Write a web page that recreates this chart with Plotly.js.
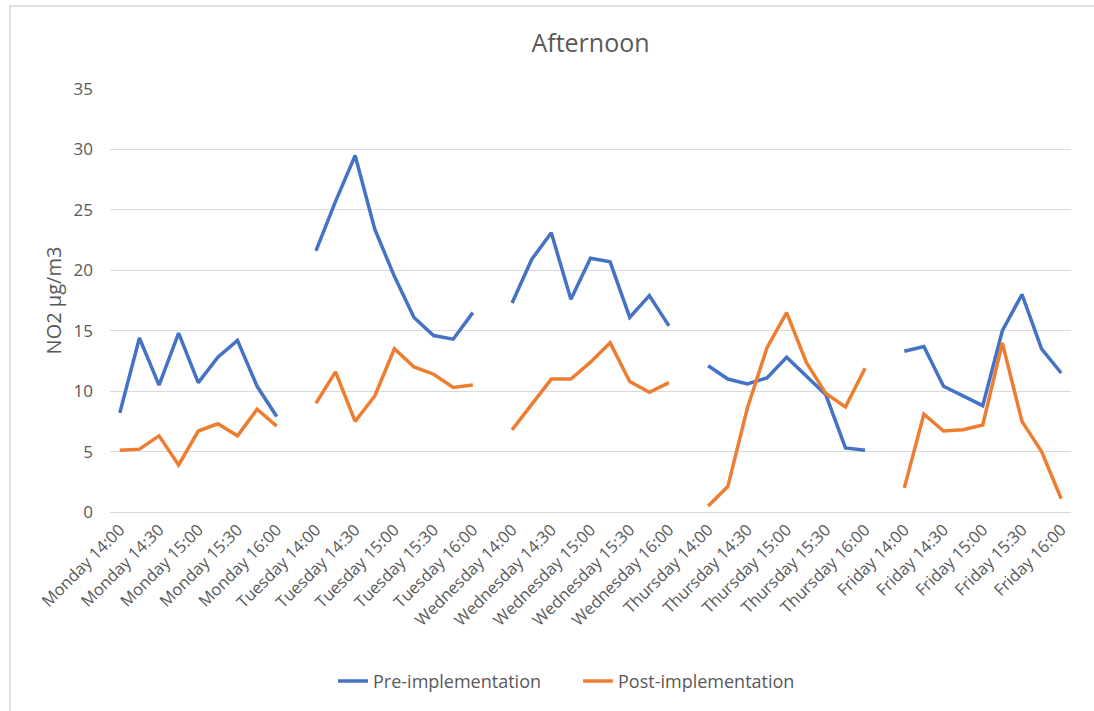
<!DOCTYPE html>
<html>
<head>
<meta charset="utf-8">
<script src="https://cdn.plot.ly/plotly-3.0.1.min.js"></script>
<style>
  html, body { margin: 0; padding: 0; background: #ffffff; }
  #wrap { position: relative; width: 1094px; height: 711px; }
  #chart { width: 1094px; height: 711px; }
  #frame { position: absolute; left: 9px; top: 5px; right: 0; bottom: 0;
           border-left: 2px solid #DEDEDE; border-top: 2px solid #DEDEDE; pointer-events: none; }
</style>
</head>
<body>
<div id="wrap"><div id="chart"></div><div id="frame"></div></div>
<script>
// ---- data ----
const days = ["Monday", "Tuesday", "Wednesday", "Thursday", "Friday"];
const times = ["14:00", "14:15", "14:30", "14:45", "15:00", "15:15", "15:30", "15:45", "16:00"];

const preMonday    = [8.2, 14.4, 10.5, 14.8, 10.7, 12.8, 14.2, 10.4, 7.9];
const preTuesday   = [21.6, 25.7, 29.5, 23.4, 19.5, 16.1, 14.6, 14.3, 16.5];
const preWednesday = [17.3, 20.9, 23.1, 17.6, 21.0, 20.7, 16.1, 17.9, 15.4];
const preThursday  = [12.1, 11.0, 10.6, 11.1, 12.8, 11.2, 9.7, 5.3, 5.1];
const preFriday    = [13.3, 13.7, 10.4, 9.6, 8.8, 15.0, 18.0, 13.5, 11.5];

const postMonday    = [5.1, 5.2, 6.3, 3.9, 6.7, 7.3, 6.3, 8.5, 7.1];
const postTuesday   = [9.0, 11.6, 7.5, 9.6, 13.5, 12.0, 11.4, 10.3, 10.5];
const postWednesday = [6.8, 8.9, 11.0, 11.0, 12.4, 14.0, 10.8, 9.9, 10.7];
const postThursday  = [0.5, 2.1, 8.6, 13.6, 16.5, 12.4, 9.8, 8.7, 11.9];
const postFriday    = [2.0, 8.1, 6.7, 6.8, 7.2, 14.0, 7.5, 5.0, 1.1];

const preByDay  = [preMonday, preTuesday, preWednesday, preThursday, preFriday];
const postByDay = [postMonday, postTuesday, postWednesday, postThursday, postFriday];

// ---- build series with a blank category between days ----
const xs = [], pre = [], post = [], tickvals = [], ticktext = [];
let idx = 0;
days.forEach((d, di) => {
  times.forEach((t, ti) => {
    xs.push(idx);
    pre.push(preByDay[di][ti]);
    post.push(postByDay[di][ti]);
    if (ti % 2 === 0) { tickvals.push(idx); ticktext.push(d + " " + t); }
    idx++;
  });
  if (di < days.length - 1) { xs.push(idx); pre.push(null); post.push(null); idx++; }
});

const FONT = "Open Sans, Noto Sans, sans-serif";
const GREY = "#595959";

const traces = [
  { x: xs, y: pre, type: "scatter", mode: "lines", name: "Pre-implementation",
    line: { color: "#4472C4", width: 3.5 }, connectgaps: false, hoverinfo: "skip" },
  { x: xs, y: post, type: "scatter", mode: "lines", name: "Post-implementation",
    line: { color: "#ED7D31", width: 3.5 }, connectgaps: false, hoverinfo: "skip" }
];

const layout = {
  width: 1094, height: 711,
  paper_bgcolor: "#ffffff", plot_bgcolor: "#ffffff",
  margin: { l: 110, r: 23, t: 89, b: 198 },
  font: { family: FONT, color: GREY, size: 16 },
  title: { text: "Afternoon", font: { family: FONT, size: 25, color: GREY },
           x: 0.5, xref: "paper", xanchor: "center", y: 1 - 43 / 711, yref: "container", yanchor: "middle" },
  showlegend: true,
  legend: { orientation: "h", x: (333 - 110) / 961, xanchor: "left", y: -0.397, yanchor: "middle",
            font: { family: FONT, size: 18, color: GREY }, itemwidth: 30, tracegroupgap: 0,
            entrywidth: 200, entrywidthmode: "pixels", borderwidth: 0 },
  xaxis: {
    range: [-0.5, idx - 0.5], tickmode: "array", tickvals: tickvals, ticktext: ticktext,
    tickangle: -45, showgrid: false, zeroline: false, showline: false, ticks: "",
    ticklabelstandoff: 4,
    tickfont: { family: FONT, size: 16.5, color: GREY }, fixedrange: true
  },
  yaxis: {
    range: [0, 35], dtick: 5, tick0: 0, showgrid: true, gridcolor: "#D9D9D9", gridwidth: 1,
    zeroline: true, zerolinecolor: "#D9D9D9", zerolinewidth: 1, showline: false, ticks: "",
    ticklabelstandoff: 16,
    tickfont: { family: FONT, size: 17, color: GREY },
    title: { text: "NO2 µg/m3", font: { family: FONT, size: 20, color: GREY }, standoff: 6 },
    fixedrange: true
  }
};

Plotly.newPlot("chart", traces, layout, { displayModeBar: false, staticPlot: true });
</script>
</body>
</html>
